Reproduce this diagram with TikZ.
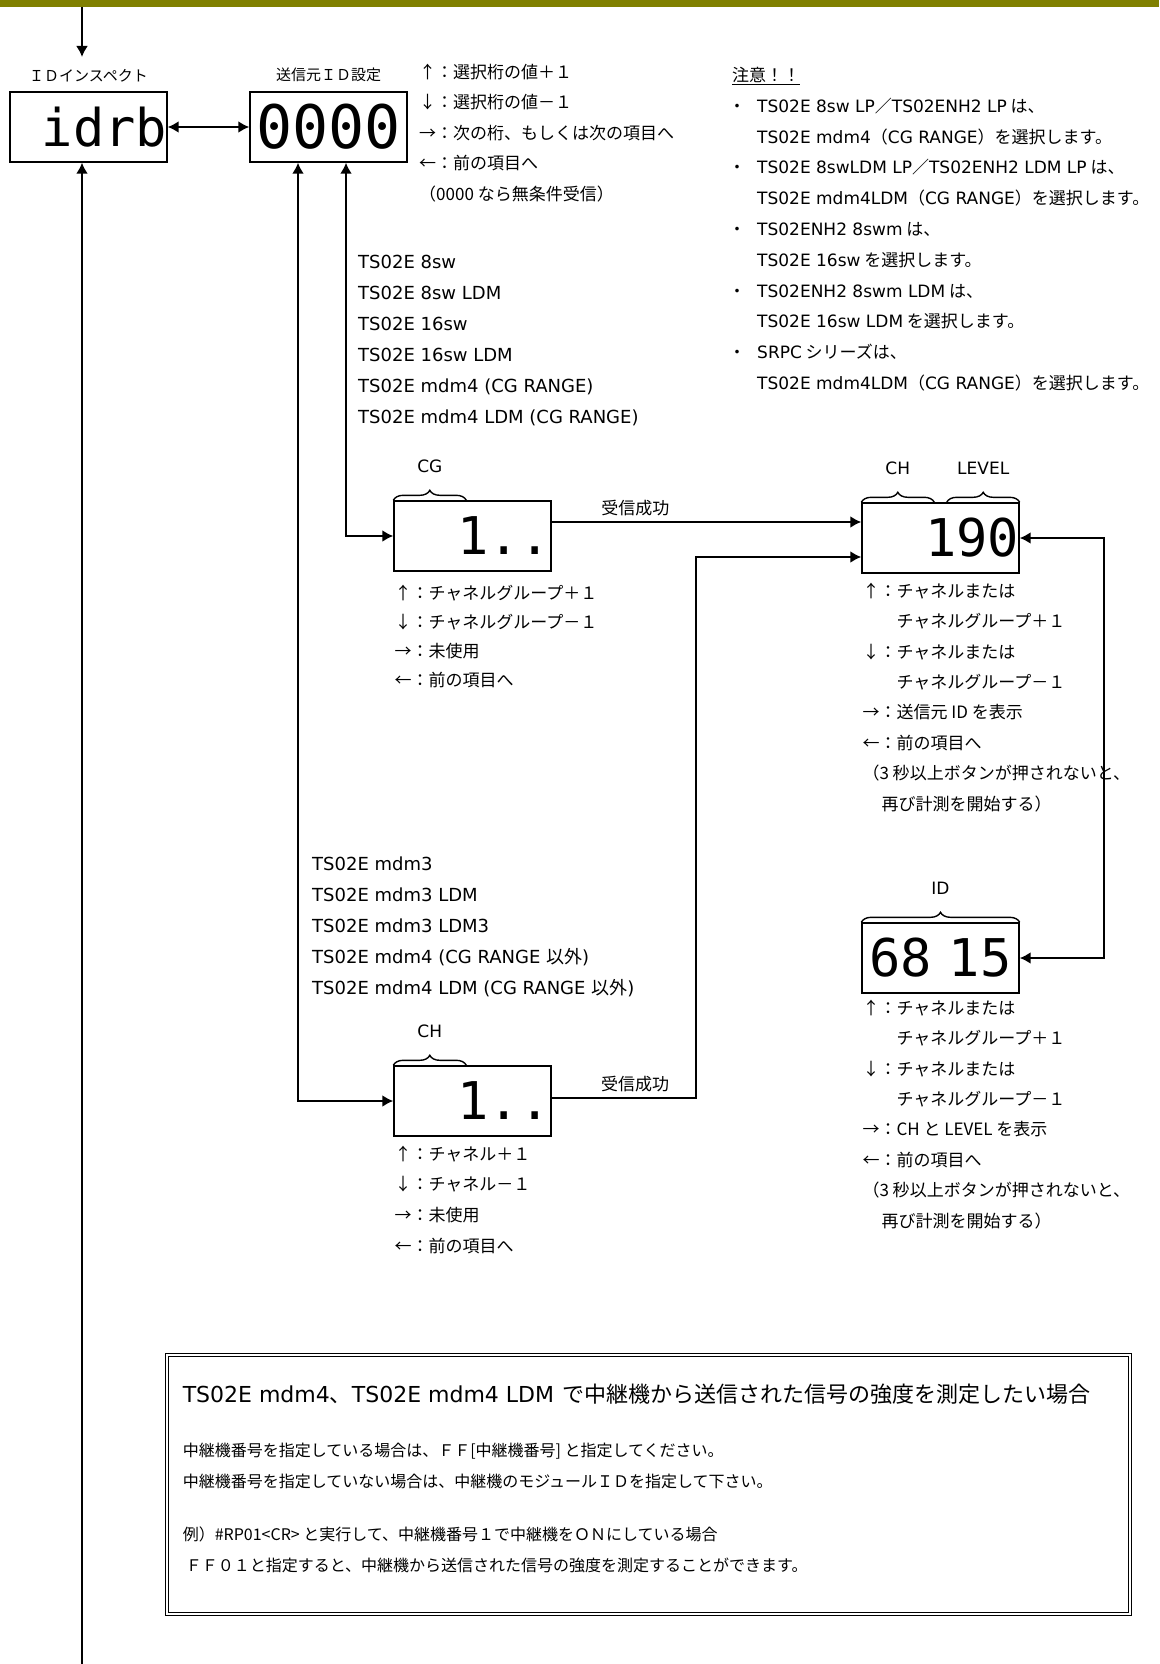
\documentclass[tikz,border=0pt]{standalone}
\usepackage{fontspec}
\setmainfont{Noto Sans CJK JP}
\newfontfamily\latn{DejaVu Sans}
\newfontfamily\segfont{DejaVu Sans Mono}
\usetikzlibrary{arrows.meta, positioning, decorations.pathreplacing}
\definecolor{barolive}{RGB}{128,128,0}
\tikzstyle{disp}=[rectangle, draw, line width=1.4pt, text width=157pt, minimum height=70pt, inner sep=0pt, font=\segfont\fontsize{52}{52}\selectfont]
\tikzstyle{arrow}=[draw, line width=2.2pt, -{Latex[length=11pt, width=12pt]}]
\tikzstyle{twoway}=[draw, line width=2.2pt, {Latex[length=11pt, width=12pt]}-{Latex[length=11pt, width=12pt]}]
\tikzstyle{lbl}=[inner sep=0pt, font=\fontsize{15}{15}\selectfont]
\tikzstyle{tag}=[inner sep=0pt, font=\latn\fontsize{17}{17}\selectfont]
\tikzstyle{ok}=[inner sep=0pt, above=5pt, font=\fontsize{17}{17}\selectfont]
\tikzstyle{info}=[inner sep=0pt, align=left, anchor=north west, font=\fontsize{17}{30.4}\selectfont]
\tikzstyle{models}=[info, font=\latn\fontsize{18}{31}\selectfont]
\tikzstyle{brc}=[decorate, decoration={brace, amplitude=10pt}, line width=1.4pt]
\newcommand{\bul}{\makebox[28.5pt][l]{・}}
\newcommand{\cont}{\hspace*{28.5pt}}
\newcommand{\ind}{\hspace*{2em}}

\begin{document}
\begin{tikzpicture}[x=1pt, y=-1pt, node distance=240pt]
	\useasboundingbox (0,0) rectangle (1159,1664);
	\fill[barolive] (0,0) rectangle (1159,7);
	
	% displays
	\node (idr) [disp, align=right] at (88.5,127) {idrb\hspace*{9pt}};
	\node (src) [disp, align=center, right of=idr, font=\segfont\fontsize{60}{60}\selectfont] {0000};
	\node (cg) [disp, align=right, below of=src, xshift=144pt, yshift=-169pt] {1..\hspace*{-3pt}};
	\node (ch) [disp, align=right, below of=cg, yshift=-325pt] {1..\hspace*{-3pt}};
	\node (lvl) [disp, align=right, right of=cg, xshift=228pt, yshift=-2pt] {190\hspace*{8pt}};
	\node (idv) [disp, align=center, below of=lvl, yshift=-180pt] {68\hspace{17pt}15};
	
	\node (idrlbl) [lbl, above=9pt of idr] {ＩＤインスペクト};
	\node (srclbl) [lbl, above=9pt of src] {送信元ＩＤ設定};
	
	% braces
	\draw[brc] (cg.north west) -- ([xshift=73pt]cg.north west) node[tag, midway, above=27pt] (cgtag) {CG};
	\draw[brc] (ch.north west) -- ([xshift=73pt]ch.north west) node[tag, midway, above=27pt] (chtag) {CH};
	\draw[brc] (lvl.north west) -- ([xshift=73pt]lvl.north west) node[tag, midway, above=27pt] (lvlchtag) {CH};
	\draw[brc] ([xshift=-73pt]lvl.north east) -- (lvl.north east) node[tag, midway, above=27pt] (leveltag) {LEVEL};
	\draw[brc] (idv.north west) -- (idv.north east) node[tag, midway, above=27pt] (idtag) {ID};
	
	% texts
	\node (srcinfo) [info] at (419,64) {↑：選択桁の値＋１\\↓：選択桁の値－１\\→：次の桁、もしくは次の項目へ\\←：前の項目へ\\（0000 なら無条件受信）};
	\node (caution) [info, font=\fontsize{17}{30.8}\selectfont] at (728.5,67) {\hspace*{3.5pt}\underline{注意！！}\\
		\bul{\latn TS02E 8sw LP}／{\latn TS02ENH2 LP} は、\\
		\cont{\latn TS02E mdm4}（{\latn CG RANGE}）を選択します。\\
		\bul{\latn TS02E 8swLDM LP}／{\latn TS02ENH2 LDM LP} は、\\
		\cont{\latn TS02E mdm4LDM}（{\latn CG RANGE}）を選択します。\\
		\bul{\latn TS02ENH2 8swm} は、\\
		\cont{\latn TS02E 16sw} を選択します。\\
		\bul{\latn TS02ENH2 8swm LDM} は、\\
		\cont{\latn TS02E 16sw LDM} を選択します。\\
		\bul{\latn SRPC} シリーズは、\\
		\cont{\latn TS02E mdm4LDM}（{\latn CG RANGE}）を選択します。};
	\node (list1) [models] at (358,255) {TS02E 8sw\\TS02E 8sw LDM\\TS02E 16sw\\TS02E 16sw LDM\\TS02E mdm4 (CG RANGE)\\TS02E mdm4 LDM (CG RANGE)};
	\node (list2) [models] at (312,857) {TS02E mdm3\\TS02E mdm3 LDM\\TS02E mdm3 LDM3\\TS02E mdm4 (CG RANGE {\rmfamily 以外})\\TS02E mdm4 LDM (CG RANGE {\rmfamily 以外})};
	\node (cginfo) [info, font=\fontsize{17}{29}\selectfont, below right=13pt and 1pt of cg.south west] {↑：チャネルグループ＋１\\↓：チャネルグループ－１\\→：未使用\\←：前の項目へ};
	\node (chinfo) [info, font=\fontsize{17}{30.7}\selectfont, below right=9pt and 1pt of ch.south west] {↑：チャネル＋１\\↓：チャネル－１\\→：未使用\\←：前の項目へ};
	\node (lvlinfo) [info, below right=9pt and 1pt of lvl.south west] {↑：チャネルまたは\\\ind チャネルグループ＋１\\↓：チャネルまたは\\\ind チャネルグループ－１\\→：送信元 ID を表示\\←：前の項目へ\\（3 秒以上ボタンが押されないと、\\\hspace*{19pt}再び計測を開始する）};
	\node (idinfo) [info, below right=6pt and 1pt of idv.south west] {↑：チャネルまたは\\\ind チャネルグループ＋１\\↓：チャネルまたは\\\ind チャネルグループ－１\\→：CH と LEVEL を表示\\←：前の項目へ\\（3 秒以上ボタンが押されないと、\\\hspace*{19pt}再び計測を開始する）};
	
	% connectors
	\coordinate (in) at (82,7);
	\coordinate (inend) at (82,57);
	\coordinate (out) at (82,1664);
	\draw[arrow] (in) -- (inend);
	\draw[twoway] (idr) -- (src);
	\draw[arrow] (out) -- (out |- idr.south);
	\draw[twoway] ([xshift=17.5pt]src.south) |- (cg.west);
	\draw[twoway] ([xshift=-30.5pt]src.south) |- (ch.west);
	\draw[arrow] ([yshift=14pt]cg.east) -- ([yshift=14pt]cg.east -| lvl.west) node[ok, pos=.27] (ok1) {受信成功};
	\draw[arrow] ([yshift=3pt]ch.east) -- ++(144pt,0) node[ok, pos=.58] (ok2) {受信成功} |- ([yshift=-19pt]lvl.west);
	\draw[twoway] (lvl.east) -- ++(84pt,0) |- (idv.east);
	
	% memo
	\node (memo) [draw, double, double distance=2.4pt, line width=.9pt, minimum width=963pt, minimum height=259pt, inner sep=0pt] at (648.5,1484.5) {};
	\node (memot) [inner sep=0pt, anchor=north west, font=\fontsize{22}{22}\selectfont, below right=29pt and 16pt of memo.north west] {{\latn TS02E mdm4}、{\latn TS02E mdm4 LDM}\hspace{8pt}で中継機から送信された信号の強度を測定したい場合};
	\node (memoa) [info, font=\fontsize{16}{31}\selectfont, below right=88pt and 16pt of memo.north west] {中継機番号を指定している場合は、ＦＦ[中継機番号] と指定してください。\\中継機番号を指定していない場合は、中継機のモジュールＩＤを指定して下さい。};
	\node (memob) [info, font=\fontsize{16}{31}\selectfont, below right=172pt and 16pt of memo.north west] {例）\#RP01<CR> と実行して、中継機番号１で中継機をＯＮにしている場合\\\hspace*{3pt}ＦＦ０１と指定すると、中継機から送信された信号の強度を測定することができます。};
	
\end{tikzpicture}
\end{document}
